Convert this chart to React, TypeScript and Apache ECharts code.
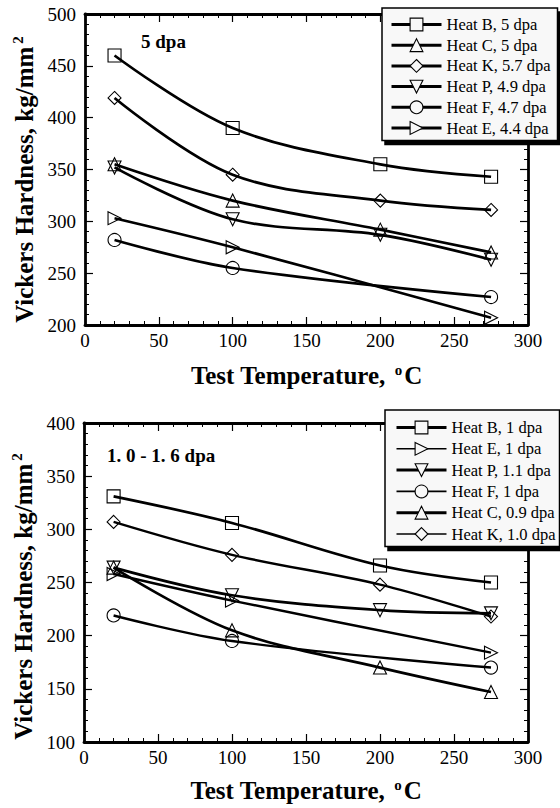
import React, { useEffect, useRef } from "react";
import * as echarts from "echarts";

// ---- data ----
const temps4 = [20, 100, 200, 275];
const temps3 = [20, 100, 275];

// Top panel (5 dpa)
const topNames = [
  "Heat B, 5 dpa",
  "Heat C, 5 dpa",
  "Heat K, 5.7 dpa",
  "Heat P, 4.9 dpa",
  "Heat F, 4.7 dpa",
  "Heat E, 4.4 dpa",
];
const heatB5 = [460, 390, 355, 343];
const heatC5 = [355, 320, 292, 270];
const heatK57 = [419, 345, 320, 311];
const heatP49 = [352, 302, 287, 263];
const heatF47 = [282, 255, 227];
const heatE44 = [303, 275, 207];

// Bottom panel (1.0 - 1.6 dpa)
const bottomNames = [
  "Heat B, 1 dpa",
  "Heat E, 1 dpa",
  "Heat P, 1.1 dpa",
  "Heat F, 1 dpa",
  "Heat C, 0.9 dpa",
  "Heat K, 1.0 dpa",
];
const heatB1 = [331, 306, 266, 250];
const heatE1 = [258, 233, 184];
const heatP11 = [264, 238, 224, 221];
const heatF1 = [219, 195, 170];
const heatC09 = [264, 205, 170, 147];
const heatK10 = [307, 276, 248, 218];

const xTicks = { min: 0, max: 300, interval: 50 };
const topY = { min: 200, max: 500, interval: 50 };
const bottomY = { min: 100, max: 400, interval: 50 };

const FONT = "Liberation Serif";

const SYM = {
  square: "rect",
  up: "triangle",
  diamond: "diamond",
  down: "path://M0,0 L10,0 L5,9 Z",
  circle: "circle",
  right: "path://M0,0 L9,5 L0,10 Z",
};

function zip(xs: number[], ys: number[]) {
  return xs.map((x, i) => [x, ys[i]]);
}

function mkSeries(
  name: string,
  xs: number[],
  ys: number[],
  symbol: string,
  idx: number,
  lw: number
) {
  return {
    type: "line",
    name,
    xAxisIndex: idx,
    yAxisIndex: idx,
    data: zip(xs, ys),
    smooth: 0.35,
    symbol,
    symbolSize: 13,
    showSymbol: true,
    lineStyle: { color: "#000", width: lw },
    itemStyle: { color: "rgba(255,255,255,0)", borderColor: "#000", borderWidth: 1.1 },
    emphasis: { disabled: true },
    z: 3,
  };
}

function axisPair(gridIndex: number, isX: boolean, range: any, nameGap: number, shiftPad: number) {
  const common = {
    type: "value",
    gridIndex,
    min: range.min,
    max: range.max,
    interval: range.interval,
    splitLine: { show: false },
    axisLine: { show: true, onZero: false, lineStyle: { color: "#000", width: 2.8 } },
    axisTick: { show: true, inside: true, length: 8, lineStyle: { color: "#000", width: 1.2 } },
    minorTick: { show: true, splitNumber: 5, length: 4, lineStyle: { color: "#000", width: 1 } },
  };
  const main: any = {
    ...common,
    position: isX ? "bottom" : "left",
    axisLabel: {
      show: true,
      color: "#000",
      fontFamily: FONT,
      fontSize: 19,
      margin: isX ? 6 : 9,
    },
    name: isX ? "Test Temperature, {sup|o}C" : "Vickers Hardness, kg/mm{sup|2}",
    nameLocation: "middle",
    nameGap,
    nameTextStyle: {
      color: "#000",
      fontFamily: FONT,
      fontWeight: "bold",
      fontSize: 25,
      padding: [0, shiftPad, 0, 0],
      rich: {
        sup: {
          fontSize: 15,
          fontWeight: "bold",
          fontFamily: FONT,
          color: "#000",
          verticalAlign: "top",
          padding: [0, 2, 12, 3],
        },
      },
    },
  };
  const mirror: any = {
    ...common,
    position: isX ? "top" : "right",
    axisLabel: { show: false },
  };
  return [main, mirror];
}

export default function App() {
  const ref = useRef<HTMLDivElement>(null);
  useEffect(() => {
    if (!ref.current) return;
    const chart = echarts.init(ref.current, undefined, { renderer: "svg" });

    const [x0, x0m] = axisPair(0, true, xTicks, 37, 0);
    const [x1, x1m] = axisPair(1, true, xTicks, 35, 0);
    const [y0, y0m] = axisPair(0, false, topY, 38, 18);
    const [y1, y1m] = axisPair(1, false, bottomY, 39, 26);

    const series = [
      mkSeries(topNames[0], temps4, heatB5, SYM.square, 0, 2.7),
      mkSeries(topNames[1], temps4, heatC5, SYM.up, 0, 2.7),
      mkSeries(topNames[2], temps4, heatK57, SYM.diamond, 0, 2.7),
      mkSeries(topNames[3], temps4, heatP49, SYM.down, 0, 2.7),
      mkSeries(topNames[4], temps3, heatF47, SYM.circle, 0, 2.7),
      mkSeries(topNames[5], temps3, heatE44, SYM.right, 0, 2.7),
      mkSeries(bottomNames[0], temps4, heatB1, SYM.square, 1, 2.7),
      mkSeries(bottomNames[1], temps3, heatE1, SYM.right, 1, 2.4),
      mkSeries(bottomNames[2], temps4, heatP11, SYM.down, 1, 2.7),
      mkSeries(bottomNames[3], temps3, heatF1, SYM.circle, 1, 2.4),
      mkSeries(bottomNames[4], temps4, heatC09, SYM.up, 1, 2.7),
      mkSeries(bottomNames[5], temps4, heatK10, SYM.diamond, 1, 2.4),
    ];

    const legendBase = {
      orient: "vertical",
      itemWidth: 50,
      itemHeight: 16,
      itemStyle: { color: "#f8f8f8", borderColor: "#000", borderWidth: 1.1 },
      lineStyle: { color: "#000", width: 3 },
      backgroundColor: "#f8f8f8",
      borderColor: "#000",
      borderWidth: 1.5,
      borderRadius: 0,
      shadowColor: "#000",
      shadowBlur: 0,
      shadowOffsetX: 3,
      shadowOffsetY: 4,
      textStyle: { fontFamily: FONT, fontSize: 16.5, color: "#000" },
      selectedMode: false,
    };

    const thinBottom = new Set([bottomNames[1], bottomNames[3], bottomNames[5]]);
    const bottomLegendData = bottomNames.map((n) =>
      thinBottom.has(n) ? { name: n, lineStyle: { width: 1.6, color: "#000" } } : { name: n }
    );

    chart.setOption({
      animation: false,
      backgroundColor: "#fff",
      textStyle: { fontFamily: FONT },
      grid: [
        { left: 85, top: 14, width: 443, height: 311 },
        { left: 84, top: 423, width: 444, height: 319 },
      ],
      xAxis: [x0, x1, x0m, x1m],
      yAxis: [y0, y1, y0m, y1m],
      legend: [
        { ...legendBase, data: topNames, left: 382, top: 8, itemGap: 3.7, padding: [8, 7, 4, 8] },
        { ...legendBase, data: bottomLegendData, left: 385, top: 410, itemGap: 4.3, padding: [9, 4, 4, 10] },
      ],
      graphic: [
        {
          type: "text",
          left: 141,
          top: 32,
          style: { text: "5 dpa", fontFamily: FONT, fontWeight: "bold", fontSize: 19, fill: "#000" },
        },
        {
          type: "text",
          left: 107,
          top: 446,
          style: { text: "1. 0 - 1. 6 dpa", fontFamily: FONT, fontWeight: "bold", fontSize: 19, fill: "#000" },
        },
      ],
      series,
    });
    return () => chart.dispose();
  }, []);
  return (
    <div
      ref={ref}
      style={{ position: "fixed", left: 0, top: 0, width: 560, height: 808, background: "#fff" }}
    />
  );
}
